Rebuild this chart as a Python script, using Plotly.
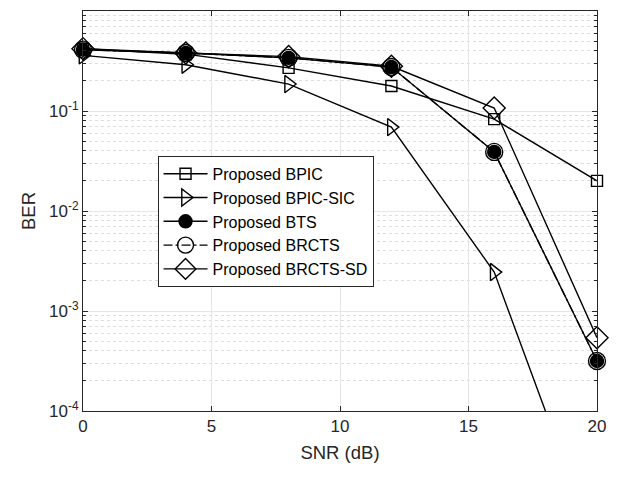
import plotly.graph_objects as go

snr = [0, 4, 8, 12, 16, 20]
ber_bpic = [0.42, 0.37, 0.27, 0.178, 0.083, 0.020]
ber_bpic_sic = [0.36, 0.29, 0.186, 0.069, 0.00245, 0.000004]
ber_bts = [0.41, 0.38, 0.34, 0.275, 0.039, 0.000316]
ber_brcts = [0.41, 0.38, 0.34, 0.275, 0.039, 0.000316]
ber_brcts_sd = [0.42, 0.38, 0.35, 0.28, 0.107, 0.00054]

names = ["Proposed BPIC", "Proposed BPIC-SIC", "Proposed BTS",
         "Proposed BRCTS", "Proposed BRCTS-SD"]

ytick_vals = [1e-4, 1e-3, 1e-2, 1e-1, 1e0]
ytick_text = ["10<sup>-4</sup>", "10<sup>-3</sup>", "10<sup>-2</sup>",
              "10<sup>-1</sup>", "10<sup>0</sup>"]

ink = "#000000"
txt = "#262626"

fig = go.Figure()

def add(y, name, symbol, size, dash="solid"):
    fig.add_trace(go.Scatter(
        x=snr, y=y, name=name, mode="lines+markers",
        line=dict(color=ink, width=1.4, dash=dash),
        marker=dict(symbol=symbol, size=size, color=ink,
                    line=dict(color=ink, width=1.4)),
        cliponaxis=False,
    ))

add(ber_bpic, names[0], "square-open", 11)
add(ber_bpic_sic, names[1], "triangle-right-open", 15)
add(ber_bts, names[2], "circle", 13)
add(ber_brcts, names[3], "circle-open", 17, dash="dashdot")
add(ber_brcts_sd, names[4], "diamond-open", 17)

fig.update_layout(
    width=620, height=478,
    margin=dict(l=83, r=23, t=11, b=67),
    paper_bgcolor="white", plot_bgcolor="white",
    font=dict(family="Liberation Sans, Arial, sans-serif", color=txt, size=17),
    showlegend=True,
    legend=dict(
        x=0.145, y=0.638, xanchor="left", yanchor="top",
        bgcolor="white", bordercolor=txt, borderwidth=1,
        font=dict(size=16, color="#000000"),
        tracegroupgap=0, itemwidth=44,
    ),
)

fig.update_xaxes(
    range=[0, 20], tickvals=[0, 5, 10, 15, 20],
    title=dict(text="SNR (dB)", font=dict(size=18.5), standoff=10),
    showline=True, linecolor=txt, linewidth=1, mirror="ticks",
    ticks="inside", ticklen=5, tickcolor=txt,
    showgrid=True, gridcolor="#e6e6e6", gridwidth=1,
    zeroline=False,
)
fig.update_yaxes(
    type="log", range=[-4, 0],
    tickvals=ytick_vals, ticktext=ytick_text,
    title=dict(text="BER", font=dict(size=18.5), standoff=8),
    showline=True, linecolor=txt, linewidth=1, mirror="ticks",
    ticks="inside", ticklen=5, tickcolor=txt,
    showgrid=True, gridcolor="#e6e6e6", gridwidth=1,
    zeroline=False,
    minor=dict(dtick="D1", showgrid=True, gridcolor="#dedede",
               griddash="dot", gridwidth=1,
               ticks="inside", ticklen=3, tickcolor=txt),
)

fig.write_html("out.html")
